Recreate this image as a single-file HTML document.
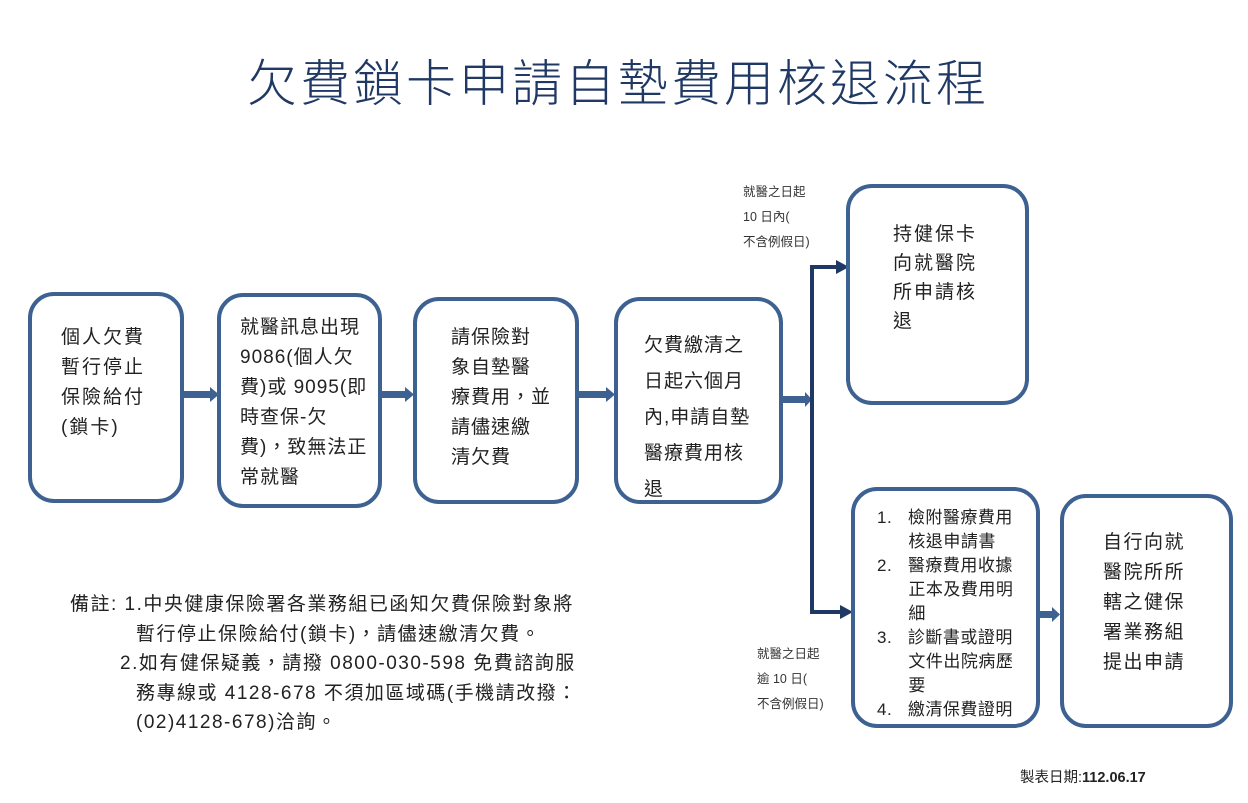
<!DOCTYPE html>
<html><head><meta charset="utf-8"><style>
body{margin:0;width:1248px;height:803px;background:#fff;position:relative;overflow:hidden;font-family:"Liberation Sans","Noto Sans CJK TC",sans-serif;color:#222}
.b{position:absolute;border:4px solid #3d6191;border-radius:26px;box-sizing:border-box}
.t{position:absolute;font-size:19px;line-height:30px;letter-spacing:1.5px}
.s{position:absolute;font-size:12.5px;line-height:25px;color:#333}
</style></head><body>
<div style="position:absolute;left:0;width:1236px;top:44px;text-align:center;font-size:50px;color:#1f3864;letter-spacing:3px;font-weight:300">欠費鎖卡申請自墊費用核退流程</div>
<svg width="1248" height="803" style="position:absolute;left:0;top:0">
<g fill="#3d6191">
<rect x="183" y="391" width="28" height="7"/><polygon points="210,387 219,394.5 210,402"/>
<rect x="381" y="391" width="25" height="7"/><polygon points="405,387 414,394.5 405,402"/>
<rect x="578" y="391" width="29" height="7"/><polygon points="606,387 615,394.5 606,402"/>
<rect x="782" y="396" width="25" height="7"/><polygon points="805,392 812,399.5 805,407"/>
<rect x="1038" y="611" width="15" height="7"/><polygon points="1052,607 1060,614.5 1052,622"/>
</g>
<g stroke="#1f3864" stroke-width="4" fill="none"><polyline points="838,267 812,267 812,612 843,612"/></g>
<g fill="#1f3864"><polygon points="836,260 849,267 836,274"/><polygon points="840,605 853,612 840,619"/></g>
</svg>
<div class="b" style="left:28px;top:292px;width:156px;height:211px"></div>
<div class="b" style="left:217px;top:293px;width:165px;height:215px"></div>
<div class="b" style="left:413px;top:297px;width:166px;height:207px"></div>
<div class="b" style="left:614px;top:297px;width:169px;height:207px"></div>
<div class="b" style="left:846px;top:184px;width:183px;height:221px"></div>
<div class="b" style="left:851px;top:487px;width:189px;height:241px"></div>
<div class="b" style="left:1060px;top:494px;width:173px;height:234px"></div>
<div class="t" style="left:61px;top:323px;letter-spacing:2px">個人欠費<br>暫行停止<br>保險給付<br>(鎖卡)</div>
<div class="t" style="left:240px;top:313px;letter-spacing:1px">就醫訊息出現<br>9086(個人欠<br>費)或 9095(即<br>時查保-欠<br>費)，致無法正<br>常就醫</div>
<div class="t" style="left:451px;top:323px;letter-spacing:1px">請保險對<br>象自墊醫<br>療費用，並<br>請儘速繳<br>清欠費</div>
<div class="t" style="left:644px;top:328px;line-height:36px;letter-spacing:1px">欠費繳清之<br>日起六個月<br>內,申請自墊<br>醫療費用核<br>退</div>
<div class="t" style="left:893px;top:220px;line-height:29px;letter-spacing:2px">持健保卡<br>向就醫院<br>所申請核<br>退</div>
<div class="t" style="left:877px;top:506px;font-size:17px;line-height:24px;letter-spacing:0.5px">1.&nbsp;&nbsp;&nbsp;檢附醫療費用<br>&nbsp;&nbsp;&nbsp;&nbsp;&nbsp;&nbsp;核退申請書<br>2.&nbsp;&nbsp;&nbsp;醫療費用收據<br>&nbsp;&nbsp;&nbsp;&nbsp;&nbsp;&nbsp;正本及費用明<br>&nbsp;&nbsp;&nbsp;&nbsp;&nbsp;&nbsp;細<br>3.&nbsp;&nbsp;&nbsp;診斷書或證明<br>&nbsp;&nbsp;&nbsp;&nbsp;&nbsp;&nbsp;文件出院病歷<br>&nbsp;&nbsp;&nbsp;&nbsp;&nbsp;&nbsp;要<br>4.&nbsp;&nbsp;&nbsp;繳清保費證明</div>
<div class="t" style="left:1103px;top:528px;letter-spacing:1.5px">自行向就<br>醫院所所<br>轄之健保<br>署業務組<br>提出申請</div>
<div class="s" style="left:743px;top:180px">就醫之日起<br>10 日內(<br>不含例假日)</div>
<div class="s" style="left:757px;top:642px">就醫之日起<br>逾 10 日(<br>不含例假日)</div>
<div style="position:absolute;left:70px;top:590px;font-size:19px;line-height:29.5px;color:#222;letter-spacing:1.5px;white-space:nowrap">備註: 1.中央健康保險署各業務組已函知欠費保險對象將<br><span style="padding-left:66px">暫行停止保險給付(鎖卡)，請儘速繳清欠費。</span><br><span style="padding-left:50px">2.如有健保疑義，請撥 0800-030-598 免費諮詢服</span><br><span style="padding-left:66px">務專線或 4128-678 不須加區域碼(手機請改撥：</span><br><span style="padding-left:66px">(02)4128-678)洽詢。</span></div>
<div style="position:absolute;left:1020px;top:766px;font-size:14.5px;color:#222">製表日期:<b>112.06.17</b></div>
</body></html>
